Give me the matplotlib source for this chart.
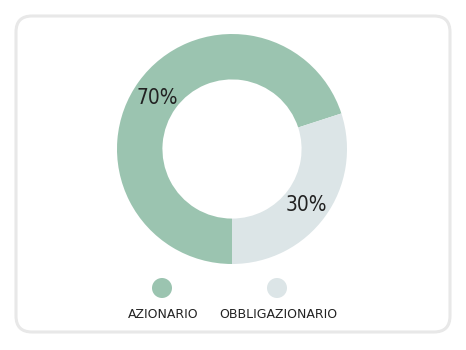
import matplotlib
matplotlib.use("Agg")
import matplotlib.pyplot as plt
from matplotlib.patches import FancyBboxPatch

categories = ["AZIONARIO", "OBBLIGAZIONARIO"]
values = [70, 30]
labels = ["70%", "30%"]
colors = ["#9bc4b0", "#dce5e7"]

W, H = 466, 350
fig = plt.figure(figsize=(W / 100, H / 100), dpi=100)
fig.patch.set_facecolor("white")

# rounded border
bg = fig.add_axes([0, 0, 1, 1])
bg.set_xlim(0, W)
bg.set_ylim(H, 0)
bg.axis("off")
box = FancyBboxPatch((16, 16), 434, 316, boxstyle="round,pad=0,rounding_size=16",
                     facecolor="white", edgecolor="#e8e8e8", linewidth=2.2)
bg.add_patch(box)

# donut: center (232,149), radius 115
cx, cy, r = 232, 149, 115
ax = fig.add_axes([(cx - r) / W, 1 - (cy + r) / H, 2 * r / W, 2 * r / H])
wedges, _ = ax.pie(values, colors=colors, startangle=18, counterclock=True,
                   wedgeprops=dict(width=0.395, linewidth=0), radius=1)
ax.set_xlim(-1, 1)
ax.set_ylim(-1, 1)
ax.set_aspect("auto")

top = fig.add_axes([0, 0, 1, 1])
top.set_xlim(0, W)
top.set_ylim(H, 0)
top.axis("off")
top.patch.set_alpha(0)

label_pos = [(157, 98), (306, 205)]
for (x, y), t in zip(label_pos, labels):
    top.text(x, y, t, ha="center", va="center", fontsize=15, color="#222222",
             family="DejaVu Sans", fontstretch="condensed", fontweight="normal")

# legend
leg_x = [162, 277]
for x, c, name in zip(leg_x, colors, categories):
    top.add_patch(plt.Circle((x, 288), 10, color=c, linewidth=0))
    top.text(x + 1, 314, name, ha="center", va="center", fontsize=9,
             color="#222222", family="DejaVu Sans")

fig.savefig("out.png", dpi=100, facecolor="white")
